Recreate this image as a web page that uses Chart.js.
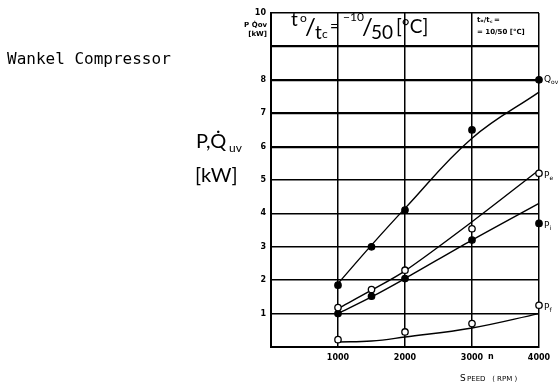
<!DOCTYPE html>
<html>
<head>
<meta charset="utf-8">
<script src="https://cdn.jsdelivr.net/npm/chart.js@4.4.0/dist/chart.umd.min.js"></script>
<style>
  html, body { margin: 0; padding: 0; background: #fff; }
  #wrap { width: 559px; height: 391px; }
</style>
</head>
<body>
<div id="wrap"><canvas id="chart" width="559" height="391"></canvas></div>
<script>
// measured points (speed in RPM, value in kW)
const speedsMeasured = [1000, 1500, 2000, 3000];
const qovMeasured = [1.85, 3.0, 4.1, 6.5];
const peMeasured = [1.18, 1.72, 2.3, 3.54];
const piMeasured = [1.0, 1.52, 2.05, 3.2];
const pfSpeeds = [1000, 2000, 3000];
const pfMeasured = [0.22, 0.45, 0.7];

// fitted curves
const curveSpeeds = [1000, 1500, 2000, 3000, 4000];
const qovCurve = [1.9, 3.05, 4.15, 6.25, 7.63];
const peCurve = [1.15, 1.7, 2.28, 3.75, 5.3];
const piCurve = [1.0, 1.5, 2.05, 3.2, 4.3];
const pfCurve = [0.15, 0.18, 0.3, 0.57, 1.0];

// markers on the right edge identifying each curve
const keyNames = ['Q', 'P', 'P', 'P'];
const keySubs = ['ov', 'e', 'i', 'f'];
const keyValues = [8.0, 5.2, 3.7, 1.25];
const keyFilled = [true, false, true, false];

const xTicks = [1000, 2000, 3000, 4000];
const yTicks = [1, 2, 3, 4, 5, 6, 7, 8, 10];

const pairs = (xs, ys) => xs.map((x, i) => ({ x, y: ys[i] }));

function pointSet(xs, ys, filled) {
    return {
        type: 'scatter',
        data: pairs(xs, ys),
        showLine: false,
        pointRadius: 3.2,
        pointBackgroundColor: filled ? '#000' : '#fff',
        pointBorderColor: '#000',
        pointBorderWidth: 1.3,
        clip: false,
        order: 0
    };
}

function curveSet(ys, tension) {
    return {
        type: 'line',
        data: pairs(curveSpeeds, ys),
        borderColor: '#000',
        borderWidth: 1.4,
        pointRadius: 0,
        tension: tension,
        fill: false,
        clip: false,
        order: 1
    };
}

const annotations = {
    id: 'annotations',
    afterDraw(chart) {
        const ctx = chart.ctx;
        const xs = chart.scales.x;
        const ys = chart.scales.y;
        ctx.save();
        ctx.fillStyle = '#000';
        ctx.textBaseline = 'middle';

        // main label at left
        ctx.font = '16px "DejaVu Sans Mono"';
        ctx.textAlign = 'left';
        ctx.fillText('Wankel Compressor', 7, 60);

        // y-axis title
        ctx.font = '20px Lato';
        ctx.fillText('P,Q\u0307', 196, 142);
        ctx.font = '12px Lato';
        ctx.fillText('uv', 229, 148);
        ctx.font = '20px Lato';
        ctx.fillText('[kW]', 195, 176);

        // small unit label by the top tick
        ctx.font = 'bold 7px "DejaVu Sans"';
        ctx.textAlign = 'right';
        ctx.fillText('P Q\u0307ov', 267, 25);
        ctx.fillText('[kW]', 267, 34);

        // header: temperature condition
        ctx.textAlign = 'left';
        ctx.font = '19px Lato';
        ctx.fillText('t', 291, 20);
        ctx.font = '12px Lato';
        ctx.fillText('o', 300, 18);
        ctx.font = '24px Lato';
        ctx.fillText('/', 305, 27);
        ctx.font = '19px Lato';
        ctx.fillText('t', 315, 33);
        ctx.font = '12px Lato';
        ctx.fillText('c', 322, 34);
        ctx.font = '15px Lato';
        ctx.fillText('=', 330, 27);

        ctx.font = '12px Lato';
        ctx.fillText('\u221210', 343, 17);
        ctx.font = '24px Lato';
        ctx.fillText('/', 362, 27);
        ctx.font = '19px Lato';
        ctx.fillText('50', 371, 33);
        ctx.fillText('[\u00b0C]', 396, 27);

        ctx.font = 'bold 7px "DejaVu Sans"';
        ctx.fillText('t\u2092/t\ua700 =', 477, 20);
        ctx.fillText('= 10/50 [\u00b0C]', 477, 32);

        // curve keys
        keyNames.forEach((name, i) => {
            const px = xs.getPixelForValue(4000) + 5;
            const py = ys.getPixelForValue(keyValues[i]) + (i === 0 ? 0 : 2);
            ctx.font = '9px "DejaVu Sans"';
            ctx.fillText(name, px, py);
            const w = ctx.measureText(name).width;
            ctx.font = '6px "DejaVu Sans"';
            ctx.fillText(keySubs[i], px + w, py + 3);
        });

        // x-axis labels
        ctx.font = 'bold 8px "DejaVu Sans"';
        ctx.fillText('n', 488, 357);
        ctx.font = '9px "DejaVu Sans"';
        ctx.fillText('S', 460, 379);
        ctx.font = '7px "DejaVu Sans"';
        ctx.fillText('PEED   ( RPM )', 467, 379);
        ctx.restore();
    }
};

const heavyLines = [6, 7, 8, 9];

new Chart(document.getElementById('chart'), {
    data: {
        datasets: [
            curveSet(qovCurve, 0.4),
            curveSet(peCurve, 0.3),
            curveSet(piCurve, 0.3),
            curveSet(pfCurve, 0.4),
            pointSet(speedsMeasured, qovMeasured, true),
            pointSet(speedsMeasured, peMeasured, false),
            pointSet(speedsMeasured, piMeasured, true),
            pointSet(pfSpeeds, pfMeasured, false),
            {
                type: 'scatter',
                data: keyValues.map((v) => ({ x: 4000, y: v })),
                pointRadius: 3.2,
                pointBackgroundColor: keyFilled.map((f) => (f ? '#000' : '#fff')),
                pointBorderColor: '#000',
                pointBorderWidth: 1.3,
                clip: false,
                order: 0
            }
        ]
    },
    options: {
        responsive: false,
        animation: false,
        layout: { padding: { left: 0, right: 20, top: 13, bottom: 0 } },
        plugins: {
            legend: { display: false },
            tooltip: { enabled: false }
        },
        scales: {
            x: {
                type: 'linear',
                min: 0,
                max: 4000,
                afterFit: (s) => { s.height = 44; },
                afterBuildTicks: (s) => { s.ticks = [0].concat(xTicks).map((v) => ({ value: v })); },
                ticks: {
                    color: '#000',
                    padding: 6,
                    font: { size: 8, weight: 'bold', family: 'DejaVu Sans' },
                    callback: (v) => (v === 0 ? '' : v)
                },
                grid: { color: '#000', lineWidth: 1.5, drawTicks: false },
                border: { color: '#000', width: 2 }
            },
            y: {
                min: 0,
                max: 10,
                afterFit: (s) => { s.width = 271; },
                afterBuildTicks: (s) => { s.ticks = [0, 9].concat(yTicks).sort((a, b) => a - b).map((v) => ({ value: v })); },
                ticks: {
                    color: '#000',
                    padding: 5,
                    font: { size: 8, weight: 'bold', family: 'DejaVu Sans' },
                    callback: (v) => (v === 0 || v === 9 ? '' : v)
                },
                grid: {
                    color: '#000',
                    drawTicks: false,
                    lineWidth: (c) => (heavyLines.includes(c.tick && c.tick.value) ? 2.2 : 1.5)
                },
                border: { color: '#000', width: 2 }
            }
        }
    },
    plugins: [annotations]
});
</script>
</body>
</html>
